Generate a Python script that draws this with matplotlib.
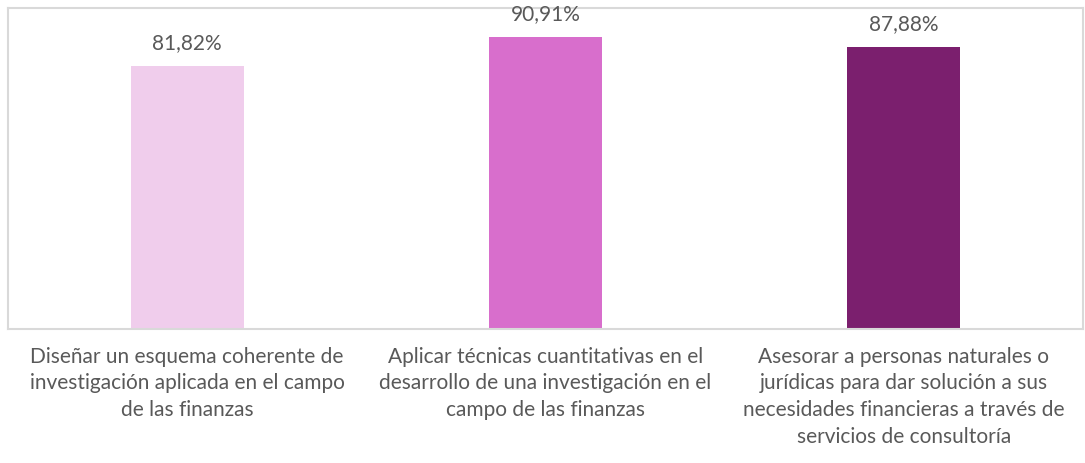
import matplotlib
matplotlib.use("Agg")
import matplotlib.pyplot as plt

# Datos
categorias = [
    "Diseñar un esquema coherente de\ninvestigación aplicada en el campo\nde las finanzas",
    "Aplicar técnicas cuantitativas en el\ndesarrollo de una investigación en el\ncampo de las finanzas",
    "Asesorar a personas naturales o\njurídicas para dar solución a sus\nnecesidades financieras a través de\nservicios de consultoría",
]
valores = [81.82, 90.91, 87.88]
colores = ["#f0cdec", "#d86ecc", "#7b1f6e"]

TEXTO = "#595959"
plt.rcParams["font.family"] = ["Lato", "DejaVu Sans"]

fig = plt.figure(figsize=(10.85, 4.64), dpi=100)
ax = fig.add_axes([8 / 1085, 134 / 464, 1075 / 1085, 321 / 464])

x = list(range(len(valores)))
bars = ax.bar(x, valores, width=0.315, color=colores)

for b, v in zip(bars, valores):
    etiqueta = f"{v:.2f}".replace(".", ",") + "%"
    ax.annotate(etiqueta, (b.get_x() + b.get_width() / 2, v),
                xytext=(0, 10), textcoords="offset points",
                ha="center", va="bottom", fontsize=15, color=TEXTO)

ax.set_xlim(-0.5, len(valores) - 0.5)
ax.set_ylim(0, 100)
ax.set_yticks([])
ax.set_xticks(x)
ax.set_xticklabels(categorias, fontsize=15, color=TEXTO, linespacing=1.42)
ax.tick_params(axis="x", length=0, pad=12)

for s in ax.spines.values():
    s.set_color("#d9d9d9")
    s.set_linewidth(1.5)

fig.savefig("out.png", dpi=100)
